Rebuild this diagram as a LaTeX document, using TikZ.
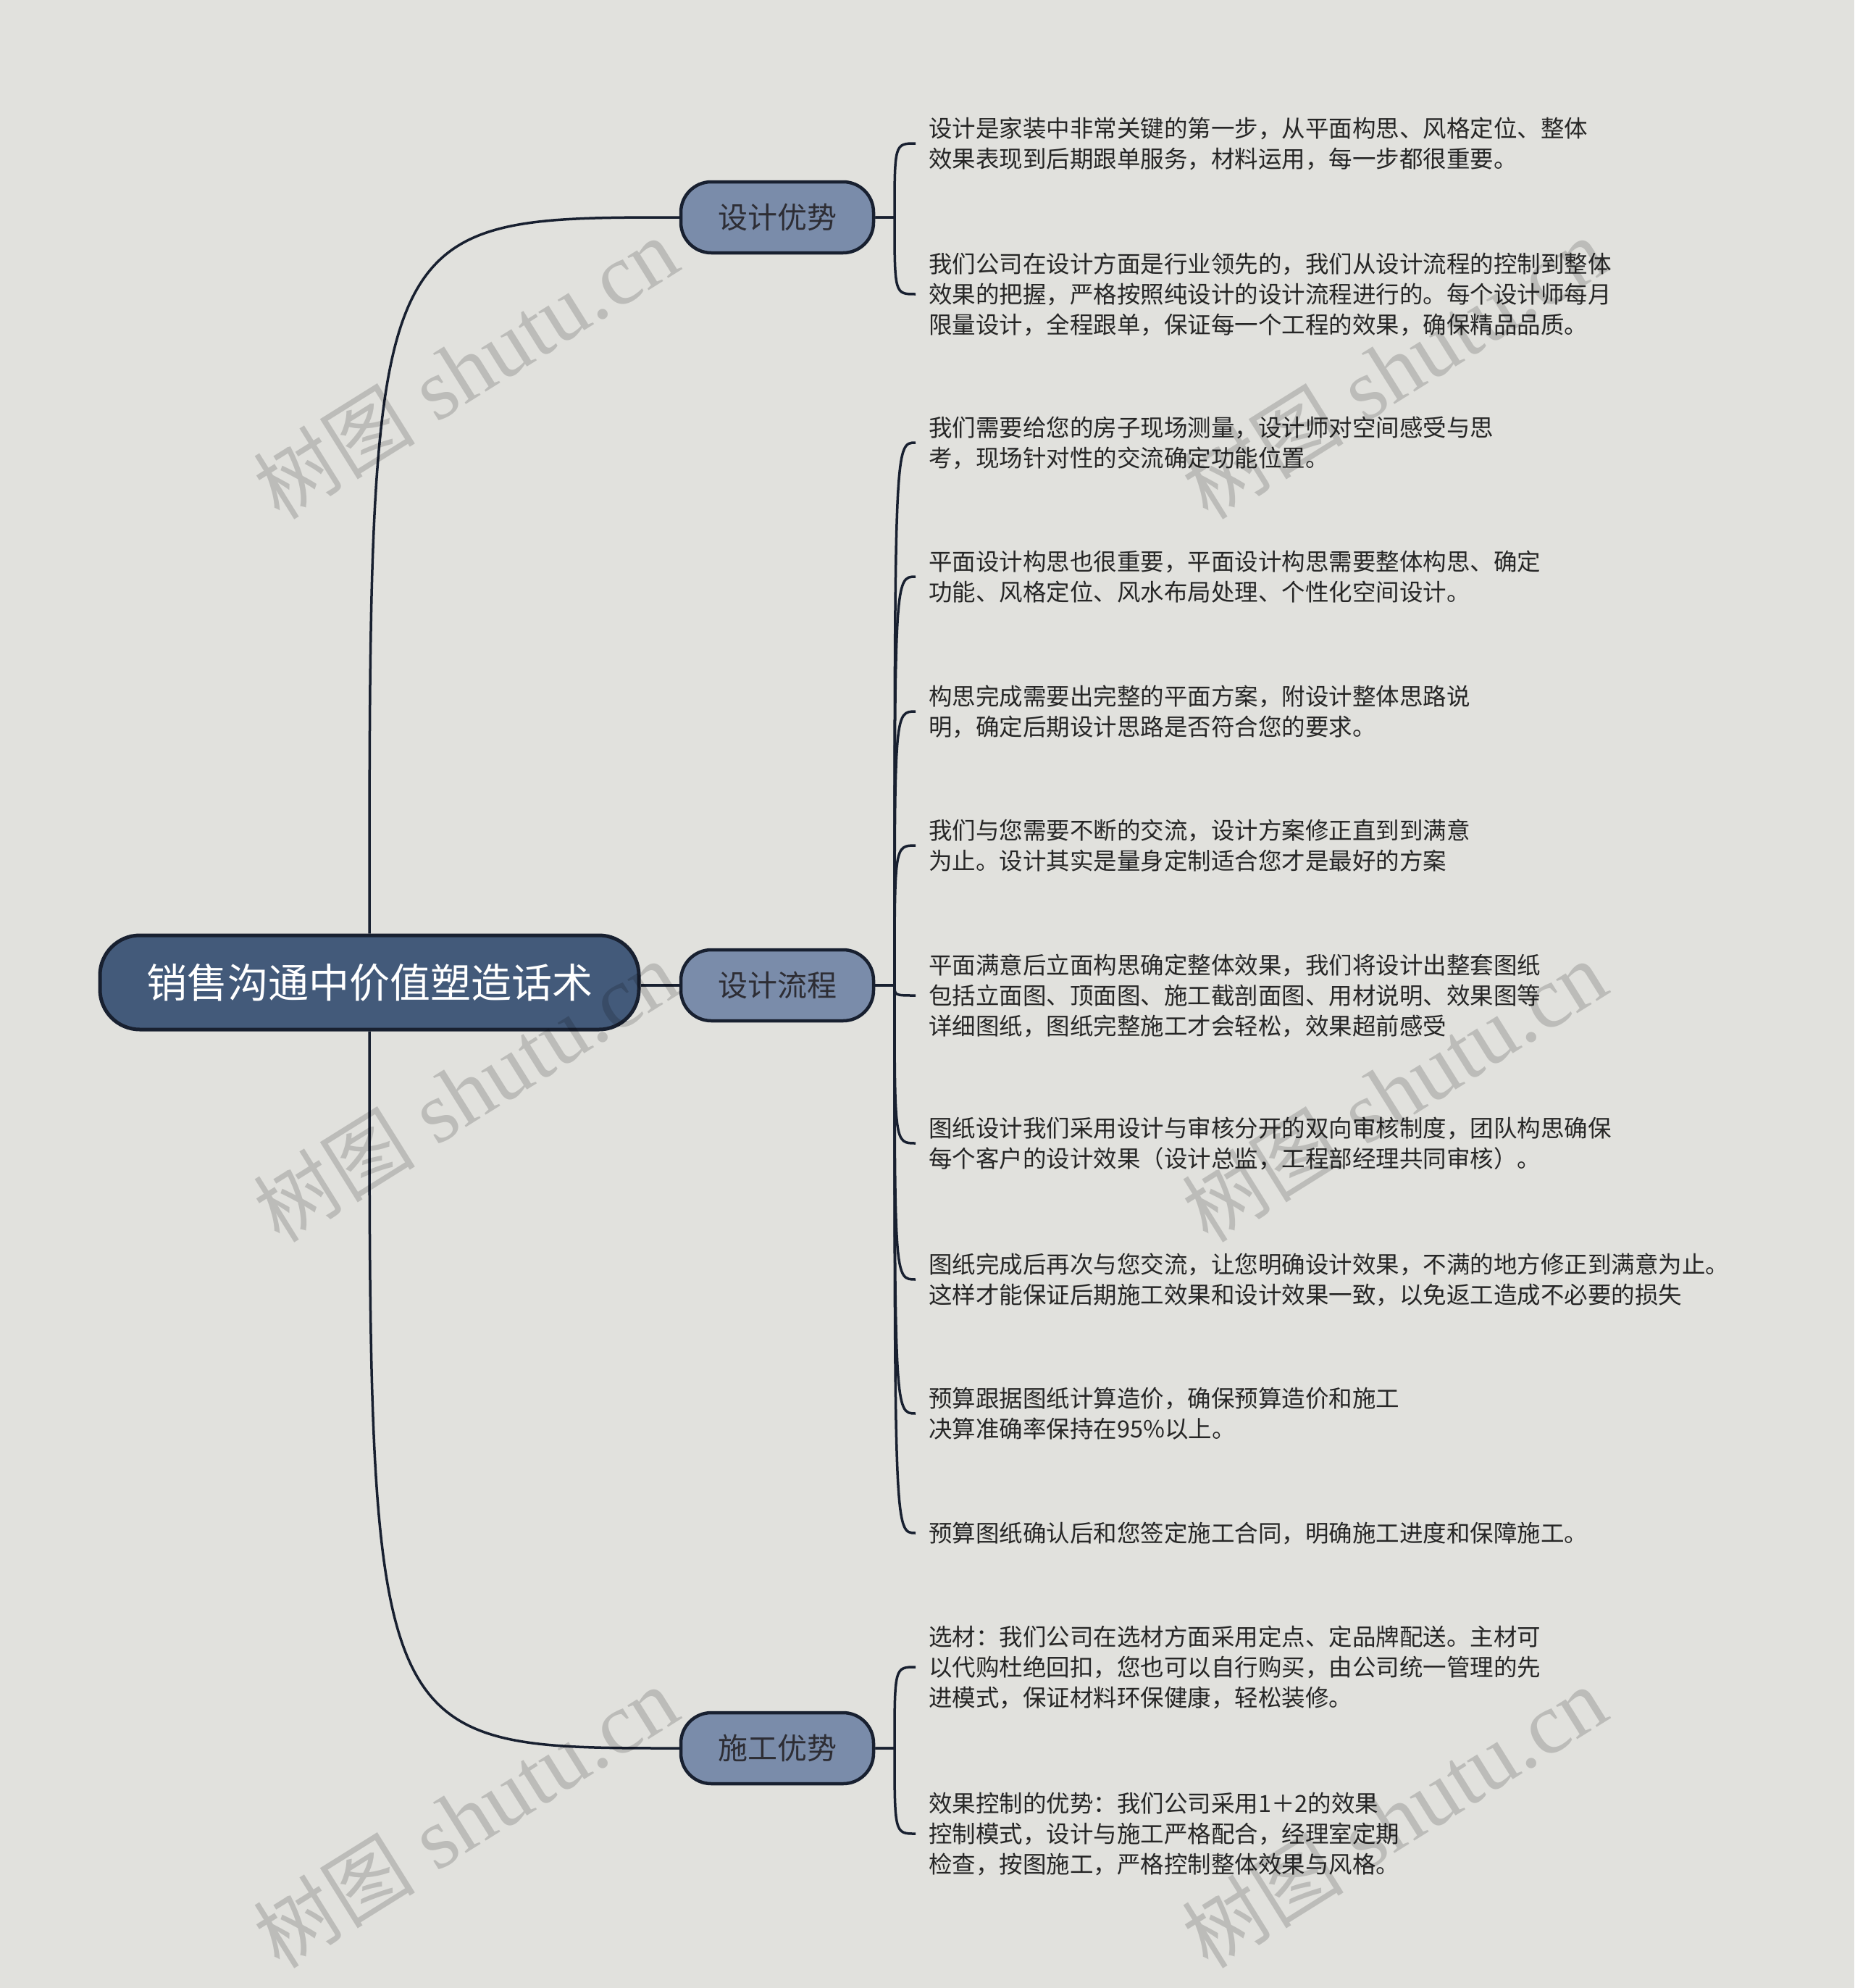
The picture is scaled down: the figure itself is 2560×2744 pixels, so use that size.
\documentclass[tikz,border=0pt]{standalone}
\usepackage{fontspec}
\newfontfamily\cjk{Noto Sans CJK SC}
\newfontfamily\wmserif{Liberation Serif}
\definecolor{bgc}{RGB}{225,225,221}
\definecolor{rootc}{RGB}{67,90,122}
\definecolor{branchc}{RGB}{122,140,170}
\definecolor{edgec}{RGB}{24,32,48}
\definecolor{leaftxt}{RGB}{38,38,38}
\definecolor{branchtxt}{RGB}{45,45,52}
\tikzset{
  rootbox/.style={draw=edgec, line width=5, fill=rootc, rounded corners=55,
    minimum width=744, minimum height=130, inner sep=0, text=white,
    font=\cjk\fontsize{56}{66}\selectfont},
  branchbox/.style={draw=edgec, line width=4.5, fill=branchc, rounded corners=42,
    minimum width=266, minimum height=98, inner sep=0, text=branchtxt,
    font=\cjk\fontsize{41}{48}\selectfont},
  leafbox/.style={anchor=west, align=left, inner sep=0, text=leaftxt,
    font=\cjk\fontsize{32.5}{42}\selectfont},
  conn/.style={draw=edgec, line width=3.5},
  wm/.style={rotate=32, text=black, opacity=0.16, inner sep=0}
}
\begin{document}
\begin{tikzpicture}[x=1pt,y=-1pt]
\fill[bgc] (0,0) rectangle (2560,2744);
\useasboundingbox (0,0) rectangle (2560,2744);

% root and branches
\node[rootbox] (root) at (510,1356) {销售沟通中价值塑造话术};
\node[branchbox] (b1) at (1073,300) {设计优势};
\node[branchbox] (b2) at (1073,1360) {设计流程};
\node[branchbox] (b3) at (1073,2413) {施工优势};

% junctions
\coordinate (j1) at (1235,300);
\coordinate (j2) at (1235,1360);
\coordinate (j3) at (1235,2413);

% leaves
\node[leafbox] (a1) at (1282,198) {设计是家装中非常关键的第一步，从平面构思、风格定位、整体\\效果表现到后期跟单服务，材料运用，每一步都很重要。};
\node[leafbox] (a2) at (1282,406) {我们公司在设计方面是行业领先的，我们从设计流程的控制到整体\\效果的把握，严格按照纯设计的设计流程进行的。每个设计师每月\\限量设计，全程跟单，保证每一个工程的效果，确保精品品质。};

\node[leafbox] (c1) at (1282,611) {我们需要给您的房子现场测量，设计师对空间感受与思\\考，现场针对性的交流确定功能位置。};
\node[leafbox] (c2) at (1282,796) {平面设计构思也很重要，平面设计构思需要整体构思、确定\\功能、风格定位、风水布局处理、个性化空间设计。};
\node[leafbox] (c3) at (1282,982) {构思完成需要出完整的平面方案，附设计整体思路说\\明，确定后期设计思路是否符合您的要求。};
\node[leafbox] (c4) at (1282,1167) {我们与您需要不断的交流，设计方案修正直到到满意\\为止。设计其实是量身定制适合您才是最好的方案};
\node[leafbox] (c5) at (1282,1374) {平面满意后立面构思确定整体效果，我们将设计出整套图纸\\包括立面图、顶面图、施工截剖面图、用材说明、效果图等\\详细图纸，图纸完整施工才会轻松，效果超前感受};
\node[leafbox] (c6) at (1282,1578) {图纸设计我们采用设计与审核分开的双向审核制度，团队构思确保\\每个客户的设计效果（设计总监，工程部经理共同审核）。};
\node[leafbox] (c7) at (1282,1766) {图纸完成后再次与您交流，让您明确设计效果，不满的地方修正到满意为止。\\这样才能保证后期施工效果和设计效果一致，以免返工造成不必要的损失};
\node[leafbox] (c8) at (1282,1951) {预算跟据图纸计算造价，确保预算造价和施工\\决算准确率保持在95\%以上。};
\node[leafbox] (c9) at (1282,2116) {预算图纸确认后和您签定施工合同，明确施工进度和保障施工。};

\node[leafbox] (d1) at (1282,2301) {选材：我们公司在选材方面采用定点、定品牌配送。主材可\\以代购杜绝回扣，您也可以自行购买，由公司统一管理的先\\进模式，保证材料环保健康，轻松装修。};
\node[leafbox] (d2) at (1282,2531) {效果控制的优势：我们公司采用1＋2的效果\\控制模式，设计与施工严格配合，经理室定期\\检查，按图施工，严格控制整体效果与风格。};

% root to branches
\draw[conn] (root.north) .. controls (root.north |- b1.west) and (root.north |- b1.west) .. (b1.west);
\draw[conn] (root.east |- b2.west) -- (b2.west);
\draw[conn] (root.south) .. controls (root.south |- b3.west) and (root.south |- b3.west) .. (b3.west);

% branch to leaves
\foreach \b/\j/\l in {b1/j1/a1, b1/j1/a2,
  b2/j2/c1, b2/j2/c2, b2/j2/c3, b2/j2/c4, b2/j2/c5, b2/j2/c6, b2/j2/c7, b2/j2/c8, b2/j2/c9,
  b3/j3/d1, b3/j3/d2}{
  \draw[conn] (\b.east) -- (\j) .. controls (\j |- \l.west) and (\j |- \l.west) .. ([xshift=-18]\l.west);
}

% watermarks
\foreach \p [count=\i] in {(643,509),(1925,509),(643,1507),(1925,1507),(643,2509),(1925,2509)}{
  \node[wm] (wm\i) at \p {{\cjk\fontsize{112}{130}\selectfont 树图}\hspace{30pt}{\wmserif\fontsize{120}{130}\selectfont shutu.cn}};
}
\end{tikzpicture}
\end{document}
